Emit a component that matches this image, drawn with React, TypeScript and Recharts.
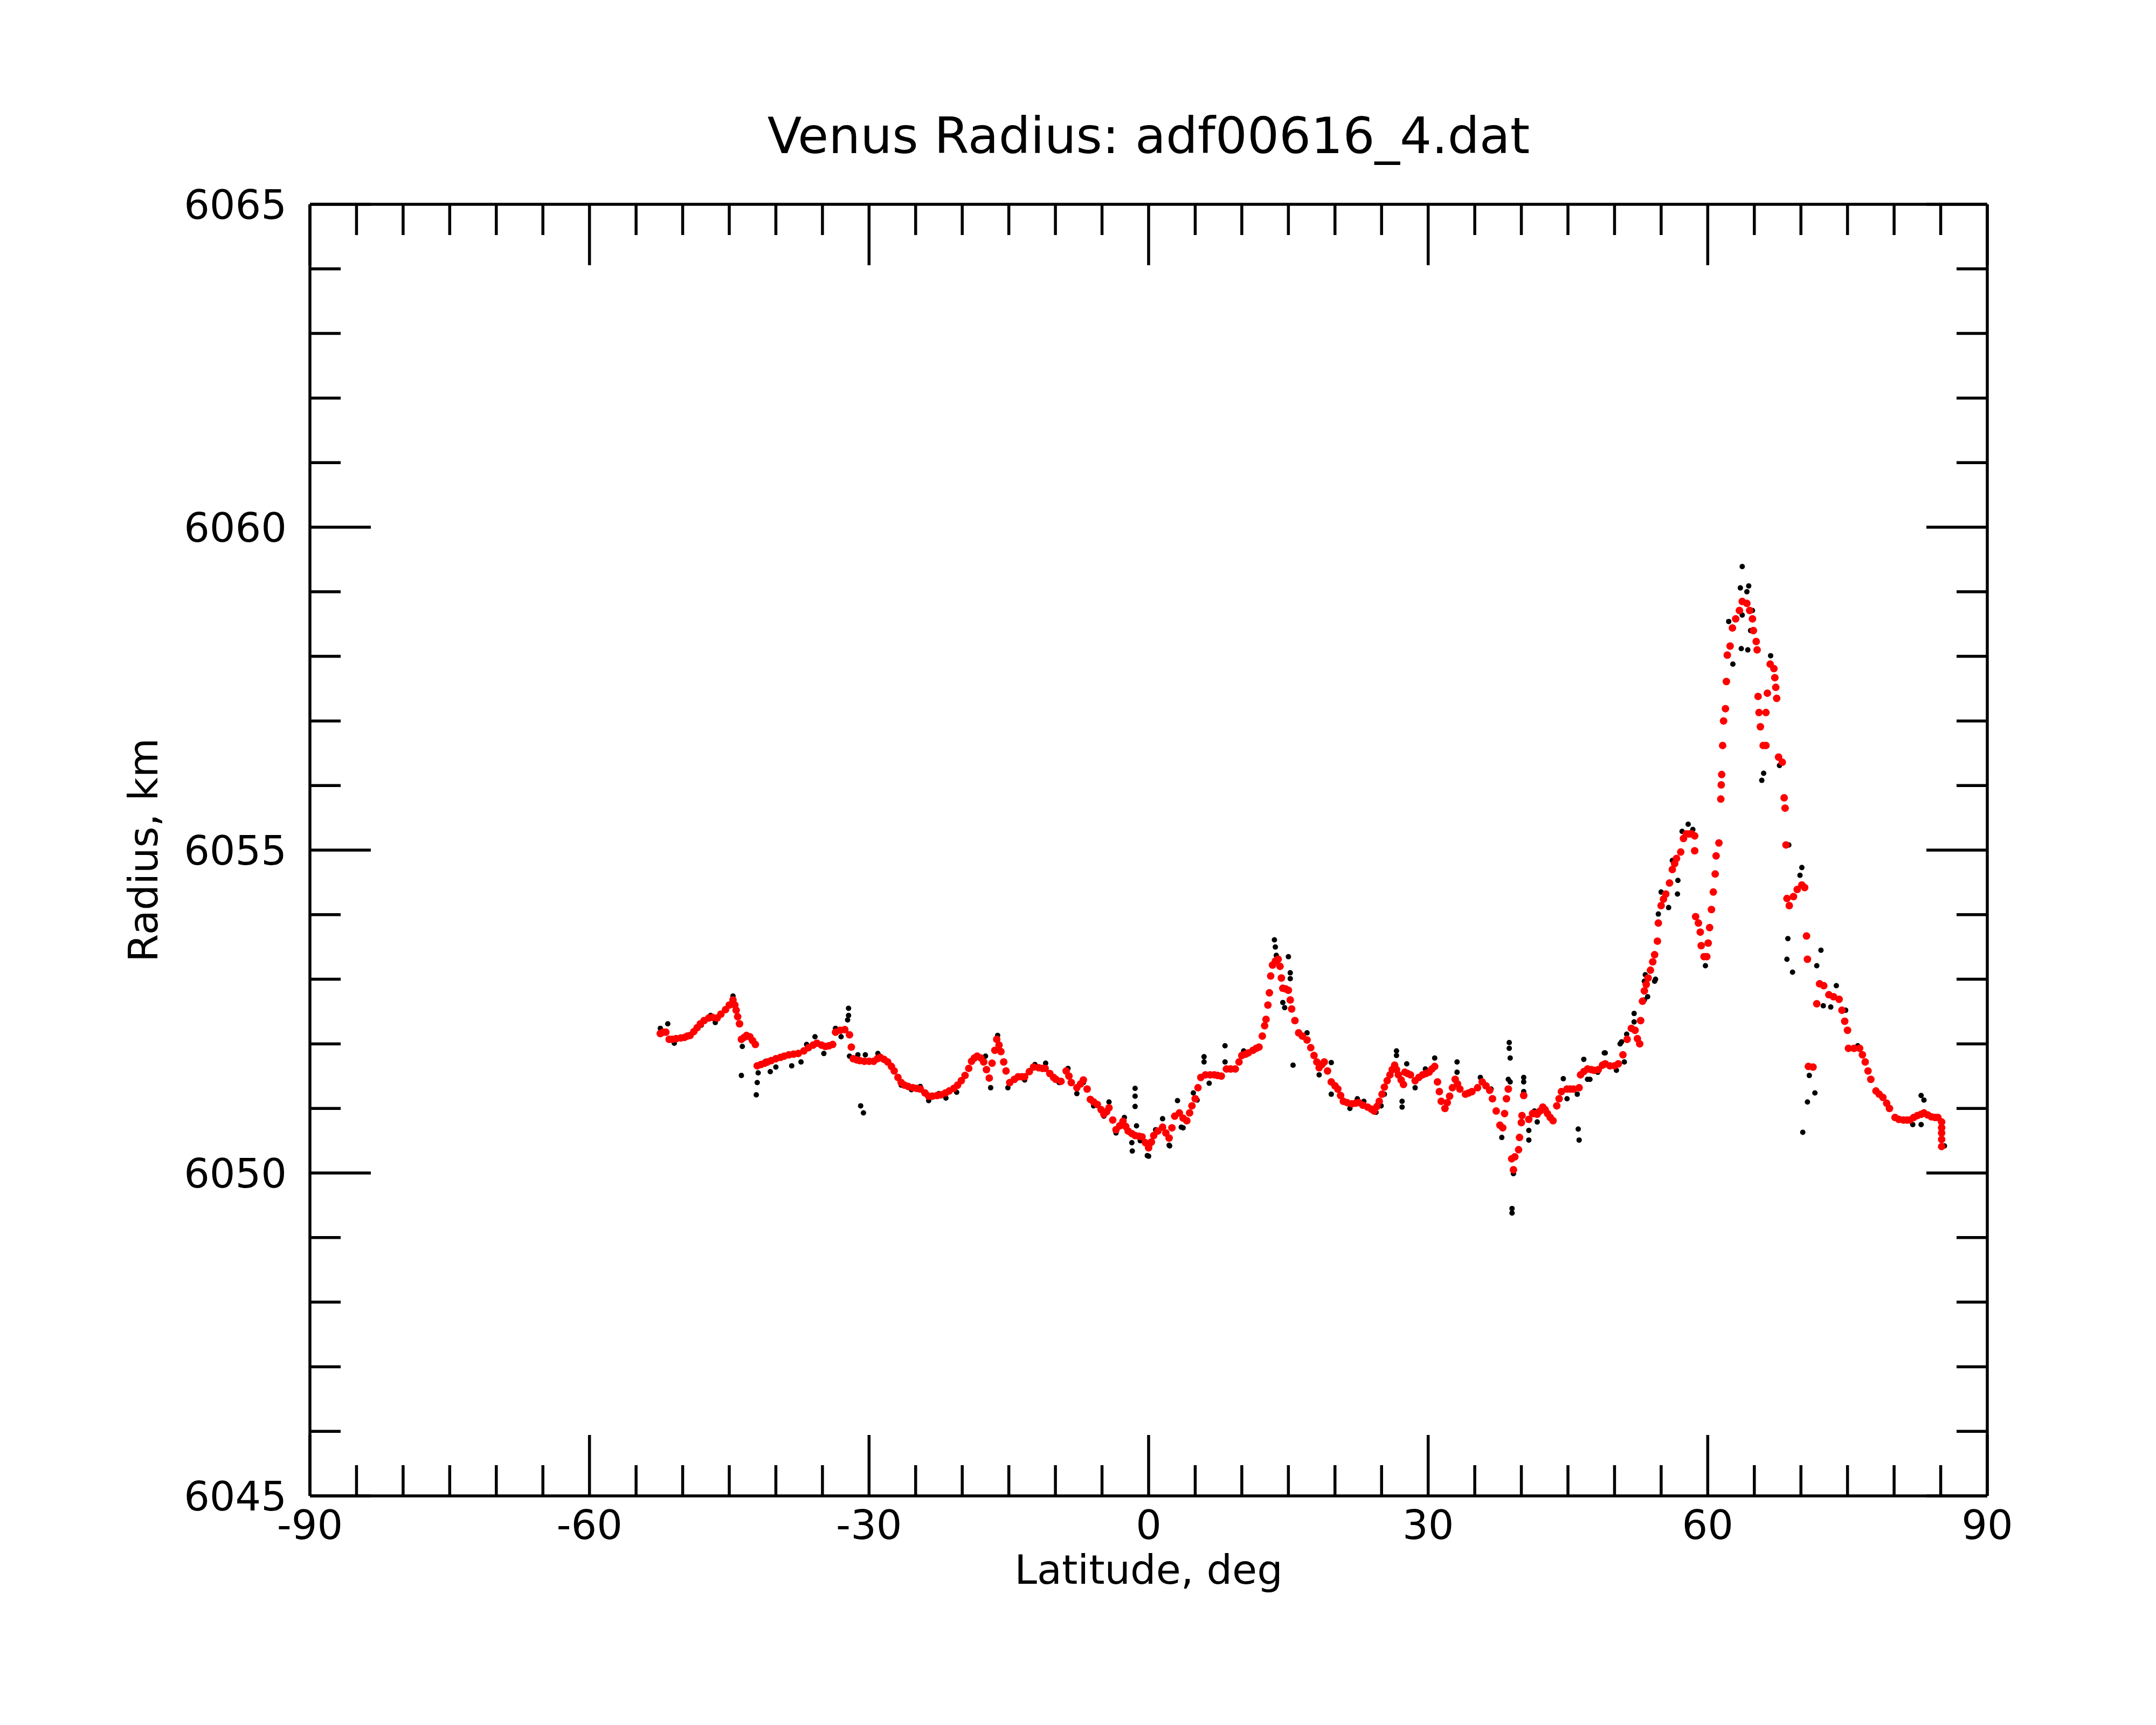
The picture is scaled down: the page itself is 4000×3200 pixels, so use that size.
import React from "react"
import { ScatterChart, Scatter, XAxis, YAxis } from "recharts"

// Venus radius profile along the orbit track (adf00616_4.dat)
// [latitude deg, radius km]

// smoothed profile (red)
const SMOOTHED: [number, number][] = [
  [-52.4, 6052.16], [-52.1, 6052.18], [-51.8, 6052.18], [-51.45, 6052.07], [-51.1, 6052.07],
  [-50.7, 6052.08], [-50.2, 6052.09], [-49.8, 6052.1], [-49.5, 6052.12], [-49.2, 6052.13],
  [-48.8, 6052.19], [-48.45, 6052.25], [-48.1, 6052.31], [-47.7, 6052.36], [-47.2, 6052.4],
  [-46.8, 6052.41], [-46.3, 6052.4], [-45.9, 6052.46], [-45.4, 6052.53], [-45.0, 6052.6],
  [-44.6, 6052.68], [-44.4, 6052.6], [-44.26, 6052.52], [-44.1, 6052.42], [-43.9, 6052.31],
  [-43.7, 6052.07], [-43.4, 6052.1], [-43.15, 6052.13], [-42.8, 6052.11], [-42.5, 6052.05],
  [-42.2, 6051.99],
  [-42.0, 6051.66], [-41.6, 6051.68], [-41.2, 6051.7], [-40.9, 6051.72], [-40.5, 6051.74],
  [-40.0, 6051.77], [-39.5, 6051.79], [-39.1, 6051.81], [-38.6, 6051.83], [-38.1, 6051.84],
  [-37.6, 6051.85], [-37.0, 6051.89], [-36.5, 6051.94], [-36.0, 6051.98], [-35.6, 6052.01],
  [-35.1, 6051.98], [-34.7, 6051.96], [-34.3, 6051.97], [-33.9, 6051.99], [-33.6, 6052.18],
  [-33.1, 6052.21], [-32.6, 6052.22], [-32.1, 6052.14], [-31.9, 6051.95], [-31.7, 6051.77],
  [-31.3, 6051.75], [-31.0, 6051.74], [-30.5, 6051.73], [-30.0, 6051.73], [-29.5, 6051.73],
  [-29.1, 6051.77], [-28.8, 6051.79], [-28.4, 6051.76], [-28.0, 6051.72], [-27.6, 6051.65],
  [-27.3, 6051.58], [-26.9, 6051.48], [-26.55, 6051.4], [-26.2, 6051.36], [-25.8, 6051.34],
  [-25.3, 6051.32], [-24.9, 6051.31], [-24.5, 6051.3], [-24.0, 6051.24], [-23.6, 6051.19],
  [-23.2, 6051.19], [-22.7, 6051.2], [-22.3, 6051.21], [-21.8, 6051.24], [-21.4, 6051.27],
  [-20.9, 6051.31], [-20.5, 6051.36], [-20.1, 6051.43], [-19.7, 6051.51], [-19.3, 6051.62],
  [-19.0, 6051.73], [-18.7, 6051.78], [-18.4, 6051.81], [-18.0, 6051.78], [-17.7, 6051.72],
  [-17.4, 6051.6], [-17.1, 6051.47], [-16.8, 6051.7], [-16.5, 6051.9], [-16.3, 6052.07],
  [-16.05, 6051.98], [-15.85, 6051.88], [-15.55, 6051.72], [-15.3, 6051.58], [-14.9, 6051.4],
  [-14.4, 6051.45], [-14.0, 6051.49], [-13.6, 6051.49], [-13.3, 6051.49], [-12.8, 6051.57],
  [-12.35, 6051.64], [-11.8, 6051.63], [-11.4, 6051.62], [-11.1, 6051.62], [-10.6, 6051.54],
  [-10.2, 6051.48], [-9.95, 6051.45], [-9.4, 6051.42], [-8.85, 6051.58], [-8.55, 6051.5],
  [-8.3, 6051.4], [-7.7, 6051.32], [-7.3, 6051.38], [-7.0, 6051.44], [-6.6, 6051.3],
  [-6.25, 6051.14], [-5.9, 6051.1], [-5.5, 6051.06], [-5.1, 6050.98], [-4.8, 6050.91],
  [-4.5, 6050.95], [-4.25, 6051.01], [-3.85, 6050.82], [-3.5, 6050.67], [-3.1, 6050.73],
  [-2.75, 6050.8], [-2.45, 6050.72], [-2.2, 6050.65], [-1.8, 6050.61], [-1.45, 6050.58],
  [-1.05, 6050.57], [-0.7, 6050.56], [-0.35, 6050.47], [0.0, 6050.39], [0.3, 6050.48],
  [0.55, 6050.58], [1.0, 6050.65], [1.5, 6050.71], [1.85, 6050.62], [2.2, 6050.54],
  [2.5, 6050.7], [2.8, 6050.88], [3.3, 6050.93], [3.7, 6050.85], [4.1, 6050.81],
  [4.4, 6050.93], [4.65, 6051.04], [5.0, 6051.15], [5.3, 6051.32], [5.6, 6051.48],
  [6.1, 6051.52], [6.6, 6051.52], [7.05, 6051.52], [7.4, 6051.51], [7.8, 6051.5],
  [8.35, 6051.61], [8.8, 6051.61], [9.3, 6051.61], [9.7, 6051.72], [10.0, 6051.82],
  [10.4, 6051.84], [10.7, 6051.86], [11.2, 6051.9], [11.55, 6051.93], [11.85, 6051.95],
  [12.2, 6052.12], [12.45, 6052.28], [12.6, 6052.38], [12.8, 6052.6], [12.96, 6052.79],
  [13.1, 6053.05], [13.3, 6053.22], [13.6, 6053.28], [13.9, 6053.31], [14.1, 6053.2],
  [14.25, 6053.02], [14.4, 6052.86], [14.7, 6052.85], [15.0, 6052.83], [15.2, 6052.68],
  [15.35, 6052.54], [15.7, 6052.36], [16.1, 6052.17], [16.5, 6052.12], [17.0, 6052.06],
  [17.4, 6051.94], [17.75, 6051.82], [18.05, 6051.72], [18.3, 6051.63], [18.6, 6051.68],
  [18.85, 6051.72], [19.2, 6051.58], [19.6, 6051.41], [20.0, 6051.35], [20.3, 6051.3],
  [20.6, 6051.2], [20.9, 6051.11], [21.3, 6051.09], [21.8, 6051.07], [22.2, 6051.08],
  [22.55, 6051.09], [23.0, 6051.05], [23.5, 6051.02], [23.9, 6050.99], [24.2, 6050.96],
  [24.5, 6051.03], [24.75, 6051.11], [25.05, 6051.22], [25.3, 6051.33], [25.6, 6051.43],
  [25.9, 6051.52], [26.15, 6051.6], [26.4, 6051.67], [26.6, 6051.6], [26.8, 6051.52],
  [27.1, 6051.44], [27.35, 6051.37], [27.5, 6051.56], [27.8, 6051.54], [28.1, 6051.52],
  [28.6, 6051.43], [29.0, 6051.48], [29.4, 6051.52], [29.75, 6051.54], [30.1, 6051.56],
  [30.4, 6051.61], [30.7, 6051.65], [31.0, 6051.41], [31.2, 6051.26], [31.4, 6051.11],
  [31.8, 6051.0], [32.05, 6051.09], [32.3, 6051.19], [32.6, 6051.32], [32.9, 6051.45],
  [33.15, 6051.38], [33.4, 6051.3], [34.0, 6051.22], [34.35, 6051.24], [34.7, 6051.26],
  [35.3, 6051.32], [35.8, 6051.41], [36.2, 6051.35], [36.6, 6051.28], [36.9, 6051.15],
  [37.3, 6050.96], [37.7, 6050.74], [38.0, 6050.7], [38.2, 6050.92], [38.4, 6051.15],
  [38.6, 6051.3], [38.96, 6050.22], [39.15, 6050.05], [39.3, 6050.25], [39.7, 6050.36],
  [39.8, 6050.55], [40.0, 6050.78], [40.07, 6050.89], [40.25, 6051.2], [40.8, 6050.83],
  [41.2, 6050.92], [41.45, 6050.92], [41.7, 6050.91], [42.0, 6050.96], [42.3, 6051.02],
  [42.55, 6050.98], [42.8, 6050.92], [43.1, 6050.86], [43.4, 6050.81], [43.8, 6051.04],
  [44.05, 6051.15], [44.3, 6051.26], [44.9, 6051.3], [45.25, 6051.3], [45.6, 6051.3],
  [46.2, 6051.32], [46.35, 6051.52], [46.7, 6051.57], [47.1, 6051.61], [47.5, 6051.6],
  [47.8, 6051.59], [48.25, 6051.6], [48.7, 6051.67], [49.0, 6051.69], [49.5, 6051.66],
  [50.0, 6051.66], [50.4, 6051.69], [50.9, 6051.83], [51.35, 6052.07], [51.8, 6052.24],
  [52.2, 6052.21], [52.45, 6052.08], [52.7, 6052.0], [52.8, 6052.36], [53.0, 6052.66],
  [53.2, 6052.82], [53.4, 6052.92], [53.6, 6053.02], [53.85, 6053.14], [54.1, 6053.27],
  [54.3, 6053.38], [54.6, 6053.59], [54.7, 6053.87], [55.0, 6054.14], [55.25, 6054.24],
  [55.5, 6054.32], [55.9, 6054.49], [56.2, 6054.7], [56.45, 6054.79], [56.65, 6054.87],
  [57.1, 6054.97], [57.4, 6055.18], [57.7, 6055.25], [58.0, 6055.25], [58.3, 6055.25],
  [58.6, 6055.22], [58.6, 6054.99], [58.7, 6053.97], [59.0, 6053.87], [59.2, 6053.73],
  [59.3, 6053.52], [59.6, 6053.35], [59.9, 6053.35], [60.05, 6053.56], [60.2, 6053.8],
  [60.4, 6054.08], [60.6, 6054.35], [60.8, 6054.63], [60.9, 6054.91], [61.2, 6055.11],
  [61.4, 6055.79], [61.45, 6056.01], [61.5, 6056.17], [61.6, 6056.62], [61.7, 6057.0],
  [61.9, 6057.19], [62.0, 6057.61], [62.1, 6058.02], [62.4, 6058.16], [62.65, 6058.44],
  [63.0, 6058.58], [63.4, 6058.71], [63.7, 6058.85], [64.2, 6058.82], [64.5, 6058.71],
  [64.8, 6058.58], [64.9, 6058.4], [65.2, 6058.23], [65.3, 6058.1], [65.4, 6057.38],
  [65.5, 6057.13], [65.65, 6056.91], [65.95, 6056.62], [66.25, 6056.62], [66.25, 6057.13],
  [66.4, 6057.43], [66.7, 6057.88], [67.1, 6057.81], [67.2, 6057.67], [67.3, 6057.52],
  [67.4, 6057.35], [67.6, 6056.44], [68.0, 6056.36], [68.2, 6055.81], [68.3, 6055.65],
  [68.4, 6055.08], [68.5, 6054.25], [68.75, 6054.14], [69.2, 6054.28], [69.6, 6054.39],
  [70.1, 6054.46], [70.4, 6054.42], [70.6, 6053.67], [70.7, 6053.31], [70.8, 6051.65],
  [71.3, 6051.64], [71.7, 6052.62], [72.0, 6052.93], [72.45, 6052.9], [73.0, 6052.76],
  [73.5, 6052.73], [74.1, 6052.69], [74.4, 6052.52], [74.7, 6052.35], [75.0, 6052.21],
  [75.1, 6051.93], [75.7, 6051.93], [76.3, 6051.93], [76.6, 6051.83], [76.9, 6051.72],
  [77.2, 6051.58], [77.5, 6051.45], [78.05, 6051.27], [78.4, 6051.22], [78.8, 6051.17],
  [79.2, 6051.08], [79.5, 6051.0], [80.1, 6050.86], [80.5, 6050.83], [81.0, 6050.82],
  [81.4, 6050.82], [81.7, 6050.82], [82.1, 6050.86], [82.5, 6050.89], [82.9, 6050.91],
  [83.2, 6050.93], [83.6, 6050.9], [84.0, 6050.87], [84.4, 6050.86], [84.7, 6050.86],
  [85.1, 6050.79], [85.1, 6050.7], [85.1, 6050.62], [85.1, 6050.52], [85.1, 6050.41],
]

// raw measurements (black), the ones visible around the smoothed track
const RAW: [number, number][] = [
  [-52.4, 6052.24], [-51.6, 6052.31], [-50.9, 6052.01], [-48.0, 6052.29], [-47.0, 6052.44],
  [-46.5, 6052.33], [-44.6, 6052.74], [-43.6, 6051.96], [-43.7, 6051.51], [-42.1, 6051.21],
  [-42.0, 6051.4], [-41.9, 6051.55], [-41.1, 6051.73], [-40.6, 6051.57], [-40.0, 6051.64],
  [-38.3, 6051.66], [-37.3, 6051.72], [-36.7, 6051.99], [-35.8, 6052.11], [-34.85, 6051.85],
  [-33.6, 6052.24], [-33.0, 6052.11], [-32.2, 6052.55], [-32.2, 6052.44], [-32.3, 6052.37],
  [-32.1, 6051.81], [-31.2, 6051.83], [-30.4, 6051.83], [-30.9, 6051.04], [-30.6, 6050.93],
  [-29.05, 6051.85], [-26.55, 6051.36], [-25.45, 6051.29], [-24.5, 6051.34], [-23.6, 6051.12],
  [-22.5, 6051.23], [-21.75, 6051.16], [-20.6, 6051.25], [-17.5, 6051.81], [-16.95, 6051.32],
  [-16.2, 6052.13], [-15.1, 6051.32], [-13.3, 6051.44], [-12.2, 6051.68], [-11.05, 6051.7],
  [-9.6, 6051.4], [-8.65, 6051.62], [-7.7, 6051.23], [-7.0, 6051.4], [-5.9, 6051.04],
  [-4.8, 6050.88], [-4.25, 6051.1], [-3.5, 6050.62], [-2.6, 6050.86], [-1.45, 6051.31],
  [-1.45, 6051.19], [-1.45, 6051.03], [-1.8, 6050.47], [-1.75, 6050.34], [-1.3, 6050.73],
  [-0.9, 6050.5], [0.0, 6050.26], [-0.14, 6050.27], [0.2, 6050.45], [0.75, 6050.67],
  [1.5, 6050.84], [2.2, 6050.43], [2.26, 6050.42], [3.1, 6051.12], [3.5, 6050.71],
  [3.7, 6050.7], [4.8, 6051.24], [5.2, 6051.13], [5.95, 6051.8], [5.95, 6051.72],
  [6.5, 6051.39], [8.2, 6051.97], [8.2, 6051.72], [10.2, 6051.89], [13.5, 6053.61],
  [13.6, 6053.5], [13.7, 6053.37], [15.0, 6053.35], [15.2, 6053.1], [15.2, 6053.01],
  [14.4, 6052.64], [14.6, 6052.56], [15.5, 6051.67], [17.0, 6052.17], [18.3, 6051.52],
  [19.6, 6051.71], [19.6, 6051.22], [21.6, 6051.0], [22.4, 6051.15], [23.1, 6051.11],
  [24.4, 6050.94], [24.95, 6051.04], [25.3, 6051.22], [26.6, 6051.89], [26.6, 6051.82],
  [27.2, 6051.11], [27.2, 6051.02], [27.7, 6051.69], [28.6, 6051.32], [29.7, 6051.61],
  [30.7, 6051.78], [33.1, 6051.72], [33.1, 6051.56], [35.6, 6051.48], [36.75, 6051.3],
  [37.9, 6050.55], [38.7, 6052.02], [38.7, 6051.93], [38.8, 6051.78], [38.6, 6051.45],
  [38.8, 6051.41], [39.0, 6049.45], [39.0, 6049.38], [39.15, 6049.99], [40.25, 6051.48],
  [40.25, 6051.41], [40.25, 6051.26], [40.8, 6050.66], [40.8, 6050.51], [41.4, 6050.96],
  [41.7, 6050.79], [44.5, 6051.46], [44.9, 6051.15], [46.0, 6051.22], [46.1, 6050.68],
  [46.2, 6050.51], [46.7, 6051.76], [47.1, 6051.45], [47.36, 6051.45], [48.2, 6051.56],
  [48.9, 6051.86], [49.0, 6051.86], [50.2, 6051.59], [50.6, 6052.0], [50.75, 6052.03],
  [51.05, 6051.72], [51.3, 6052.15], [52.1, 6052.47], [52.1, 6052.34], [53.2, 6052.97],
  [53.2, 6052.68], [53.3, 6053.07], [53.55, 6052.73], [54.3, 6052.97], [54.4, 6053.0],
  [54.7, 6054.01], [55.0, 6054.35], [55.8, 6054.11], [56.2, 6054.84], [56.8, 6054.53],
  [56.75, 6054.32], [57.25, 6055.29], [57.9, 6055.4], [58.4, 6055.32], [59.75, 6053.21],
  [62.7, 6057.88], [62.25, 6058.54], [63.7, 6059.39], [63.5, 6059.06], [64.4, 6059.09],
  [64.2, 6059.0], [63.7, 6058.64], [64.8, 6058.71], [63.6, 6058.12], [64.3, 6058.1],
  [64.6, 6058.4], [65.8, 6056.08], [66.0, 6056.19], [66.75, 6058.01], [67.7, 6056.31],
  [68.7, 6055.08], [68.6, 6053.63], [68.5, 6053.31], [69.1, 6053.11], [70.1, 6054.73],
  [69.9, 6054.61], [70.2, 6050.63], [70.7, 6051.1], [71.5, 6051.24], [70.9, 6051.51],
  [72.15, 6053.45], [71.7, 6053.21], [72.4, 6052.59], [73.2, 6052.57], [73.8, 6052.9],
  [74.8, 6052.52], [76.1, 6051.97], [82.9, 6051.2], [83.2, 6051.13], [82.9, 6050.75],
  [82.0, 6050.75], [85.4, 6050.42],
]

const X_TICKS = [
  -90, -85, -80, -75, -70, -65, -60, -55, -50, -45, -40, -35, -30, -25, -20, -15, -10, -5,
  0, 5, 10, 15, 20, 25, 30, 35, 40, 45, 50, 55, 60, 65, 70, 75, 80, 85, 90,
]
const X_LABELS = [-90, -60, -30, 0, 30, 60, 90]
const Y_TICKS = [
  6045, 6046, 6047, 6048, 6049, 6050, 6051, 6052, 6053, 6054, 6055,
  6056, 6057, 6058, 6059, 6060, 6061, 6062, 6063, 6064, 6065,
]
const Y_LABELS = [6045, 6050, 6055, 6060, 6065]

const FONT = "DejaVu Sans, sans-serif"
const MAJOR = 113
const MINOR = 57
const LW = 5.5

const toRows = (pts: [number, number][]) => pts.map(([lat, r]) => ({ lat, r }))

function tickLen(v: number, labels: number[]) {
  return labels.includes(v) ? MAJOR : MINOR
}

function BottomTick({ x, y, payload }: any) {
  const v = payload.value
  return (
    <g>
      <line x1={x} x2={x} y1={y} y2={y - tickLen(v, X_LABELS)} stroke="#000" strokeWidth={LW} />
      {X_LABELS.includes(v) ? (
        <text x={x} y={y + 80} textAnchor="middle" fontSize={75} fontFamily={FONT} fill="#000">
          {v}
        </text>
      ) : null}
    </g>
  )
}

function TopTick({ x, y, payload }: any) {
  const v = payload.value
  return <line x1={x} x2={x} y1={y} y2={y + tickLen(v, X_LABELS)} stroke="#000" strokeWidth={LW} />
}

function LeftTick({ x, y, payload }: any) {
  const v = payload.value
  return (
    <g>
      <line x1={x} x2={x + tickLen(v, Y_LABELS)} y1={y} y2={y} stroke="#000" strokeWidth={LW} />
      {Y_LABELS.includes(v) ? (
        <text x={x - 43} y={y + 27} textAnchor="end" fontSize={75} fontFamily={FONT} fill="#000">
          {v}
        </text>
      ) : null}
    </g>
  )
}

function RightTick({ x, y, payload }: any) {
  const v = payload.value
  return <line x1={x} x2={x - tickLen(v, Y_LABELS)} y1={y} y2={y} stroke="#000" strokeWidth={LW} />
}

const axisLine = { stroke: "#000", strokeWidth: LW }

export default function App() {
  return (
    <div style={{ position: "absolute", left: 0, top: 0, width: 4000, height: 3200, background: "#fff" }}>
      <ScatterChart
        width={4000}
        height={3200}
        margin={{ top: 378, right: 312, bottom: 424, left: 574 }}
      >
        <XAxis
          xAxisId="b"
          type="number"
          dataKey="lat"
          domain={[-90, 90]}
          ticks={X_TICKS}
          allowDataOverflow
          height={1}
          tickSize={0}
          tickMargin={0}
          tickLine={false}
          axisLine={axisLine}
          tick={BottomTick}
          interval={0}
        />
        <XAxis
          xAxisId="t"
          orientation="top"
          type="number"
          dataKey="lat"
          domain={[-90, 90]}
          ticks={X_TICKS}
          allowDataOverflow
          height={1}
          tickSize={0}
          tickMargin={0}
          tickLine={false}
          axisLine={axisLine}
          tick={TopTick}
          interval={0}
        />
        <YAxis
          yAxisId="l"
          type="number"
          dataKey="r"
          domain={[6045, 6065]}
          ticks={Y_TICKS}
          allowDataOverflow
          width={1}
          tickSize={0}
          tickMargin={0}
          tickLine={false}
          axisLine={axisLine}
          tick={LeftTick}
          interval={0}
        />
        <YAxis
          yAxisId="r"
          orientation="right"
          type="number"
          dataKey="r"
          domain={[6045, 6065]}
          ticks={Y_TICKS}
          allowDataOverflow
          width={1}
          tickSize={0}
          tickMargin={0}
          tickLine={false}
          axisLine={axisLine}
          tick={RightTick}
          interval={0}
        />
        <Scatter
          xAxisId="b"
          yAxisId="l"
          data={toRows(RAW)}
          isAnimationActive={false}
          shape={(p: any) => <circle cx={p.cx} cy={p.cy} r={5} fill="#000" />}
        />
        <Scatter
          xAxisId="t"
          yAxisId="r"
          data={toRows(SMOOTHED)}
          isAnimationActive={false}
          shape={(p: any) => <circle cx={p.cx} cy={p.cy} r={7} fill="#ff0000" />}
        />
      </ScatterChart>
      <svg
        width={4000}
        height={3200}
        style={{ position: "absolute", left: 0, top: 0, pointerEvents: "none" }}
      >
        <text x={2131} y={284} textAnchor="middle" fontSize={93} fontFamily={FONT} fill="#000">
          Venus Radius: adf00616_4.dat
        </text>
        <text x={2131} y={2938} textAnchor="middle" fontSize={75} fontFamily={FONT} fill="#000">
          Latitude, deg
        </text>
        <text
          x={292}
          y={1577}
          transform="rotate(-90 292 1577)"
          textAnchor="middle"
          fontSize={75}
          fontFamily={FONT}
          fill="#000"
        >
          Radius, km
        </text>
      </svg>
    </div>
  )
}
